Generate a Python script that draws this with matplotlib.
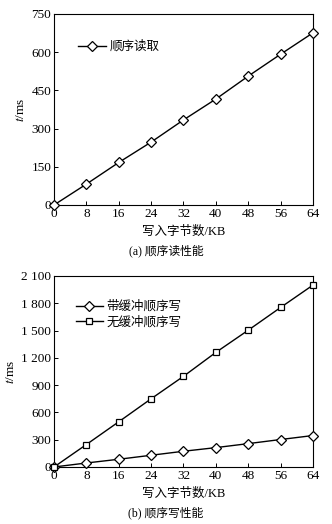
import matplotlib
matplotlib.use("Agg")
import matplotlib.pyplot as plt

plt.rcParams['font.family'] = ['Liberation Serif', 'Noto Sans CJK SC']
plt.rcParams['mathtext.fontset'] = 'stix'

# data
x_kb = [0, 8, 16, 24, 32, 40, 48, 56, 64]
read_seq = [0, 82, 167, 247, 334, 416, 506, 592, 676]
write_buffered = [0, 44, 85, 129, 173, 213, 257, 302, 346]
write_unbuffered = [0, 247, 497, 750, 997, 1260, 1504, 1754, 2000]

x_ticks = [0, 8, 16, 24, 32, 40, 48, 56, 64]
y_ticks_a = [0, 150, 300, 450, 600, 750]
y_ticks_b = [0, 300, 600, 900, 1200, 1500, 1800, 2100]
y_labels_b = ['0', '300', '600', '900', '1 200', '1 500', '1 800', '2 100']

fig = plt.figure(figsize=(3.32, 5.24), dpi=100)
ax1 = fig.add_axes([0.1627, 0.6088, 0.780, 0.3645])
ax2 = fig.add_axes([0.1627, 0.1088, 0.780, 0.3645])


def style(ax, yticks, ylabels, ymax):
    ax.set_xlim(0, 64)
    ax.set_ylim(0, ymax)
    ax.set_xticks(x_ticks)
    ax.set_xticklabels([str(v) for v in x_ticks])
    ax.set_yticks(yticks)
    ax.set_yticklabels(ylabels)
    ax.tick_params(direction='in', length=3, width=0.7, pad=2, labelsize=9.5)
    for s in ax.spines.values():
        s.set_linewidth(0.8)
    ax.set_ylabel('$t$/ms', fontsize=9.5, labelpad=3)
    ax.set_xlabel('写入字节数/KB', fontsize=9, labelpad=4)


ax1.plot(x_kb, read_seq, color='black', lw=1, marker='D', ms=5,
         mfc='white', mec='black', mew=0.9, label='顺序读取', clip_on=False, zorder=3)
style(ax1, y_ticks_a, [str(v) for v in y_ticks_a], 750)
ax1.legend(loc='upper left', bbox_to_anchor=(0.05, 0.92), frameon=False,
           fontsize=9, handlelength=2.2, handletextpad=0.3)
fig.text(0.5, 1 - 251 / 524, '(a) 顺序读性能', ha='center', va='center', fontsize=8.5)

ax2.plot(x_kb, write_buffered, color='black', lw=1, marker='D', ms=5,
         mfc='white', mec='black', mew=0.9, label='带缓冲顺序写', clip_on=False, zorder=3)
ax2.plot(x_kb, write_unbuffered, color='black', lw=1, marker='s', ms=5,
         mfc='white', mec='black', mew=0.9, label='无缓冲顺序写', clip_on=False, zorder=3)
style(ax2, y_ticks_b, y_labels_b, 2100)
ax2.legend(loc='upper left', bbox_to_anchor=(0.04, 0.93), frameon=False,
           fontsize=9, handlelength=2.2, handletextpad=0.3, labelspacing=0.25)
fig.text(0.5, 1 - 513 / 524, '(b) 顺序写性能', ha='center', va='center', fontsize=8.5)

fig.savefig('out.png', dpi=100)
